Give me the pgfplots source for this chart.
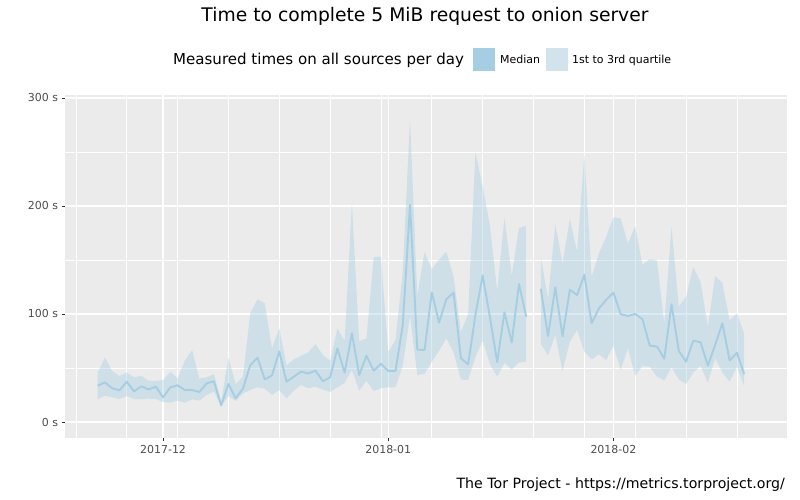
\documentclass[border=0pt]{standalone}
\usepackage{fontspec}
\setmainfont{DejaVu Sans}
\usepackage{pgfplots}
\pgfplotsset{compat=1.18}
\usepackage{pgfplotstable}
\usepgfplotslibrary{fillbetween}

\definecolor{panel}{HTML}{EBEBEB}
\definecolor{med}{HTML}{A6CEE3}
\definecolor{txt}{HTML}{4D4D4D}
\definecolor{keybg}{HTML}{F2F2F2}

% days counted from 2017-12-01; q1 = 1st quartile, med = median, q3 = 3rd quartile (seconds)
\pgfplotstableread{
d q1 med q3
-9 21.0 33.6 45.7
-8 24.4 36.7 59.9
-7 22.8 31.2 47.2
-6 21.3 29.3 42.6
-5 24.0 37.3 46.0
-4 21.3 28.4 41.4
-3 21.0 33.0 42.9
-2 21.6 30.2 38.3
-1 21.3 32.7 38.0
0 18.5 22.8 38.9
1 17.9 32.1 46.6
2 19.8 34.0 40.4
3 17.9 29.6 57.0
4 21.0 29.6 66.7
5 19.8 27.8 40.4
6 25.0 35.8 41.4
7 28.1 37.7 44.4
8 14.8 15.4 18.8
9 24.0 35.2 59.6
10 19.5 22.0 34.9
11 26.5 30.9 42.0
12 29.6 52.5 100.6
13 32.1 59.6 113.6
14 30.9 39.5 109.9
15 25.0 43.2 68.2
16 29.6 65.4 87.0
17 21.9 37.3 52.5
18 29.0 42.0 58.0
19 34.3 46.6 61.4
20 31.2 45.0 64.5
21 32.7 47.5 72.2
22 30.2 37.7 62.0
23 27.8 41.4 56.5
24 32.1 68.2 86.7
25 36.4 45.7 75.3
26 48.1 82.1 203.0
27 29.0 43.5 75.0
28 38.3 61.4 77.2
29 28.7 47.5 153.0
30 31.2 54.0 153.0
31 32.1 47.3 65.0
32 32.1 47.3 76.0
33 52.0 90.0 140.0
34 98.0 201.0 281.0
35 43.5 67.0 117.0
36 44.5 66.7 157.7
37 55.9 120.0 141.5
38 65.9 92.0 150.5
39 77.5 113.8 157.7
40 64.3 119.7 134.5
41 39.2 59.2 83.6
42 39.0 53.4 99.8
43 60.0 99.0 250.0
44 75.0 135.7 218.0
45 53.5 97.0 182.0
46 42.0 55.5 121.5
47 54.6 101.5 189.3
48 48.8 73.8 135.7
49 55.1 127.8 179.6
50 55.9 97.5 181.8
}\segA

\pgfplotstableread{
d q1 med q3
52 72.5 123.4 153.0
53 61.7 79.6 114.5
54 80.3 124.7 183.0
55 47.4 79.3 147.0
56 74.4 122.4 188.0
57 85.2 117.6 157.7
58 65.1 136.4 248.0
59 58.0 91.4 134.5
60 62.7 105.1 156.2
61 57.4 113.0 171.6
62 70.4 119.8 189.5
63 48.1 99.8 188.6
64 68.2 98.2 165.4
65 42.6 100.0 181.5
66 51.9 95.2 145.4
67 51.2 70.7 150.9
68 42.0 69.9 149.4
69 38.3 58.6 91.4
70 50.6 109.0 180.9
71 39.5 65.8 106.8
72 35.2 55.9 116.0
73 46.0 75.3 143.5
74 51.9 73.8 129.5
75 36.4 52.2 88.2
76 58.9 71.2 135.3
77 46.0 91.4 128.7
78 37.3 57.0 94.2
79 51.2 64.2 100.6
80 33.3 44.4 81.8
}\segB

\begin{document}
\begin{tikzpicture}[x=1bp,y=1bp]
\begin{axis}[
  at={(65bp,62bp)}, anchor=south west,
  scale only axis, width=722bp, height=343bp,
  xmin=-13.5, xmax=85.9, ymin=-14.8, ymax=302.8,
  axis background/.style={fill=panel},
  axis line style={draw=none},
  grid=both,
  major grid style={white, line width=1.3bp},
  minor grid style={white, line width=0.65bp},
  xtick={0,31,62},
  xticklabels={\mbox{2017-12},\mbox{2018-01},\mbox{2018-02}},
  minor xtick={-12,-5,2,9,16,23,30,37,44,51,58,65,72,79},
  ytick={0,100,200,300},
  yticklabels={\mbox{0 s},\mbox{100 s},\mbox{200 s},\mbox{300 s}},
  minor ytick={50,150,250},
  tick pos=left,
  tick align=outside,
  major tick length=3.5bp,
  minor tick length=0pt,
  tick style={color=black!80, line width=0.8bp},
  ticklabel style={font=\fontsize{11}{13}\selectfont, color=txt},
  clip=true,
]
\addplot[name path=uA, draw=none, forget plot] table[x=d, y=q3] {\segA};
\addplot[name path=lA, draw=none, forget plot] table[x=d, y=q1] {\segA};
\addplot[fill=med, fill opacity=0.4, draw=none, forget plot] fill between[of=uA and lA];
\addplot[name path=uB, draw=none, forget plot] table[x=d, y=q3] {\segB};
\addplot[name path=lB, draw=none, forget plot] table[x=d, y=q1] {\segB};
\addplot[fill=med, fill opacity=0.4, draw=none, forget plot] fill between[of=uB and lB];
\addplot[med, line width=1.9bp, line join=round, forget plot] table[x=d, y=med] {\segA};
\addplot[med, line width=1.9bp, line join=round, forget plot] table[x=d, y=med] {\segB};
\end{axis}
% title
\node[anchor=base, font=\fontsize{18.8}{22}\selectfont] at (425,478) {Time to complete 5 MiB request to onion server};
% legend
\node[anchor=base west, inner sep=0pt, font=\fontsize{15.1}{18}\selectfont] at (173,435) {Measured times on all sources per day};
\fill[keybg] (473,428.5) rectangle (495,451.5);
\fill[med] (473,428.5) rectangle (495,451.5);
\node[anchor=base west, inner sep=0pt, font=\fontsize{11}{13}\selectfont] at (500,436) {Median};
\fill[keybg] (546,428.5) rectangle (568,451.5);
\fill[med, fill opacity=0.4] (546,428.5) rectangle (568,451.5);
\node[anchor=base west, inner sep=0pt, font=\fontsize{11}{13}\selectfont] at (572,436) {1st to 3rd quartile};
% caption
\node[anchor=base east, inner sep=0pt, font=\fontsize{14.2}{17}\selectfont] at (785,11) {The Tor Project - https://metrics.torproject.org/};
\pgfresetboundingbox
\path[use as bounding box] (0,0) rectangle (800,500);
\end{tikzpicture}
\end{document}
